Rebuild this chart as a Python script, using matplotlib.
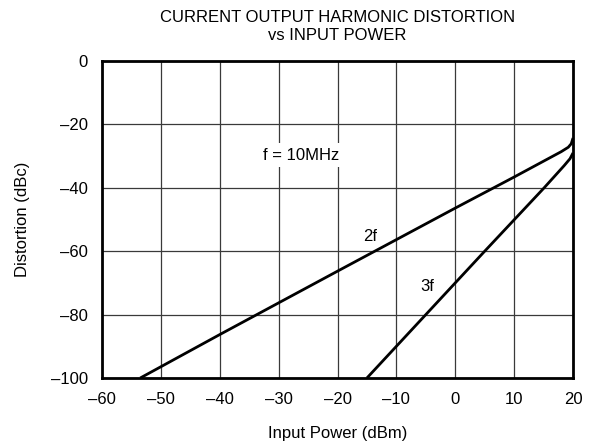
import matplotlib.pyplot as plt

plt.rcParams['font.family'] = ['Liberation Sans', 'DejaVu Sans']

# 2nd harmonic
x_2f = [-53.5, -40, -20, 0, 10, 18, 19.2, 19.7, 20]
y_2f = [-100, -86.3, -66.3, -46.4, -36.6, -28.6, -27.2, -26.1, -24.3]

# 3rd harmonic
x_3f = [-15, -5, 5, 15, 18.5, 19.5, 20]
y_3f = [-100, -80, -60, -40.2, -33.0, -30.8, -29.0]

x_ticks = [-60, -50, -40, -30, -20, -10, 0, 10, 20]
y_ticks = [0, -20, -40, -60, -80, -100]

fig = plt.figure(figsize=(5.9, 4.46), dpi=100)
ax = fig.add_axes([0.1729, 0.1525, 0.7983, 0.7107])

ax.plot(x_2f, y_2f, color='black', lw=2, solid_capstyle='butt')
ax.plot(x_3f, y_3f, color='black', lw=2, solid_capstyle='butt')

ax.set_xlim(-60, 20)
ax.set_ylim(-100, 0)
ax.set_xticks(x_ticks)
ax.set_yticks(y_ticks)
ax.set_xticklabels([str(t).replace('-', '\u2013') for t in x_ticks])
ax.set_yticklabels([str(t).replace('-', '\u2013') for t in y_ticks])
ax.tick_params(length=0, labelsize=12, pad=10)
ax.grid(True, color='#3a3a3a', lw=0.9)
for s in ax.spines.values():
    s.set_linewidth(2)
    s.set_zorder(5)

ax.text(-14.5, -55.3, '2f', fontsize=12, ha='center', va='center')
ax.text(-4.7, -71.2, '3f', fontsize=12, ha='center', va='center')
ax.text(-26.2, -29.7, 'f = 10MHz', fontsize=12, ha='center', va='center',
        bbox=dict(facecolor='white', edgecolor='none', pad=3))

fig.text(0.572, 0.9406, 'CURRENT OUTPUT HARMONIC DISTORTION\nvs INPUT POWER',
         fontsize=12, ha='center', va='center', linespacing=1.2)
fig.text(338 / 590, 0.027, 'Input Power (dBm)', fontsize=12, ha='center', va='center')
fig.text(23 / 590, 0.5078, 'Distortion (dBc)', fontsize=12, ha='center', va='center',
         rotation=90)

fig.savefig('out.png', dpi=100)
